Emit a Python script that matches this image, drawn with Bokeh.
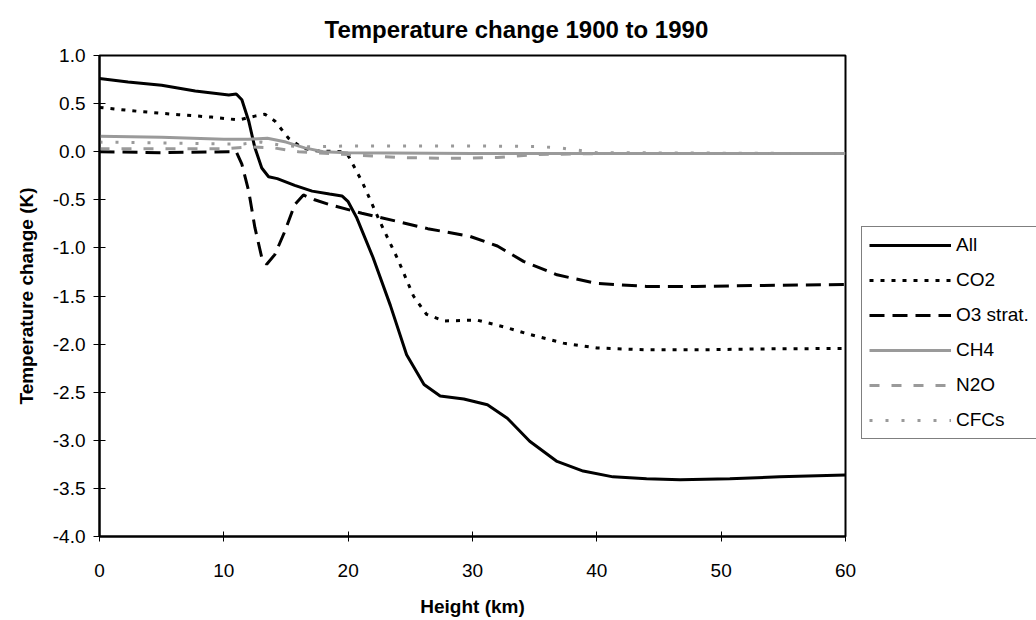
from bokeh.plotting import figure
from bokeh.models import Legend, LegendItem, Title, Range1d, FixedTicker, PrintfTickFormatter
from bokeh.embed import file_html
from bokeh.resources import INLINE

FONT = "Liberation Sans"

# ---- data ----
all_km = [0, 2.3, 5, 7.7, 10.4, 11.0, 11.45, 12.0, 12.5, 13.05, 13.6, 14.3, 15.7, 17.1, 18.5,
          19.5, 20.0, 20.7, 22.0, 23.4, 24.7, 26.1, 27.4, 29.3, 31.2, 32.8, 34.6, 36.8, 38.9,
          41.3, 44.0, 46.7, 50.7, 54.7, 60]
all_t = [0.76, 0.725, 0.69, 0.63, 0.59, 0.60, 0.54, 0.32, 0.04, -0.17, -0.26, -0.28, -0.35, -0.41, -0.44,
         -0.46, -0.52, -0.69, -1.10, -1.60, -2.11, -2.42, -2.54, -2.57, -2.63, -2.77, -3.01, -3.22, -3.32,
         -3.38, -3.40, -3.41, -3.40, -3.38, -3.36]

co2_km = [0, 3.1, 6.35, 9.0, 11.2, 12.5, 13.3, 14.1, 15.2, 16.3, 17.3, 19.5, 20.0, 21.15, 22.6, 24.0,
          25.25, 26.3, 27.7, 30.35, 32.5, 34.6, 37.3, 40.0, 44.0, 48.0, 53.4, 60]
co2_t = [0.46, 0.42, 0.385, 0.36, 0.33, 0.37, 0.39, 0.32, 0.14, 0.04, 0.01, 0.0, -0.04, -0.32, -0.74, -1.12,
         -1.50, -1.69, -1.76, -1.75, -1.82, -1.90, -1.99, -2.04, -2.06, -2.06, -2.05, -2.045]

o3_km = [0, 5, 10.4, 11.0, 11.45, 12.0, 12.5, 13.05, 13.45, 14.1, 14.9, 15.7, 16.4, 17.3, 18.5, 21.1,
         23.8, 26.4, 29.8, 32.0, 34.1, 36.8, 40.0, 44.0, 48.0, 53.4, 60]
o3_t = [0.0, -0.01, 0.0, 0.0, -0.13, -0.41, -0.79, -1.10, -1.17, -1.07, -0.83, -0.55, -0.45, -0.50, -0.55,
        -0.64, -0.72, -0.80, -0.88, -0.98, -1.14, -1.28, -1.37, -1.40, -1.40, -1.39, -1.38]

ch4_km = [0, 5, 10, 12, 13.5, 15, 16.5, 18, 20, 30, 40, 60]
ch4_t = [0.16, 0.15, 0.13, 0.13, 0.14, 0.10, 0.04, 0.0, -0.01, -0.02, -0.02, -0.02]

n2o_km = [0, 5, 10, 12, 14, 16, 20, 24, 28, 32, 35, 40, 60]
n2o_t = [0.03, 0.03, 0.03, 0.05, 0.04, 0.0, -0.03, -0.06, -0.07, -0.06, -0.03, -0.02, -0.02]

cfc_km = [0, 5, 10, 11.5, 13, 15, 17, 20, 25, 30, 35, 37, 40, 60]
cfc_t = [0.10, 0.09, 0.08, 0.08, 0.10, 0.06, 0.05, 0.06, 0.06, 0.06, 0.055, 0.04, -0.01, -0.02]

x_ticks = [0, 10, 20, 30, 40, 50, 60]
y_ticks = [1.0, 0.5, 0.0, -0.5, -1.0, -1.5, -2.0, -2.5, -3.0, -3.5, -4.0]

series_names = ["All", "CO2", "O3 strat.", "CH4", "N2O", "CFCs"]

# ---- figure ----
p = figure(frame_width=746, frame_height=481,
           min_border_left=99, min_border_top=54, min_border_bottom=84, min_border_right=0,
           x_range=Range1d(0, 60), y_range=Range1d(-4, 1),
           output_backend="svg", toolbar_location=None)
p.background_fill_color = "white"
p.border_fill_color = "white"
p.xgrid.visible = False
p.ygrid.visible = False
p.outline_line_color = "black"
p.outline_line_width = 2

GREY = "#9a9a9a"
r_all = p.line(all_km, all_t, line_color="black", line_width=3)
r_co2 = p.line(co2_km, co2_t, line_color="black", line_width=3, line_dash="4 7")
r_o3 = p.line(o3_km, o3_t, line_color="black", line_width=3, line_dash="15 8")
r_ch4 = p.line(ch4_km, ch4_t, line_color=GREY, line_width=3)
r_n2o = p.line(n2o_km, n2o_t, line_color=GREY, line_width=3, line_dash="10 12")
r_cfc = p.line(cfc_km, cfc_t, line_color=GREY, line_width=3, line_dash="3 13")

# axes
for ax in (p.xaxis[0], p.yaxis[0]):
    ax.axis_line_color = "black"
    ax.axis_line_width = 2
    ax.major_tick_line_color = "black"
    ax.major_tick_line_width = 1
    ax.minor_tick_line_color = None
    ax.major_label_text_font = FONT
    ax.major_label_text_font_size = "19px"
    ax.major_label_text_color = "black"
    ax.axis_label_text_font = FONT
    ax.axis_label_text_font_size = "19px"
    ax.axis_label_text_font_style = "bold"
    ax.axis_label_text_color = "black"

p.xaxis.ticker = FixedTicker(ticks=x_ticks)
p.xaxis.major_tick_in = 5
p.xaxis.major_tick_out = 5
p.xaxis.major_label_standoff = 22
p.xaxis.axis_label = "Height (km)"
p.xaxis.axis_label_standoff = 16

p.yaxis.ticker = FixedTicker(ticks=y_ticks)
p.yaxis.formatter = PrintfTickFormatter(format="%.1f")
p.yaxis.major_tick_in = 6
p.yaxis.major_tick_out = 6
p.yaxis.major_label_standoff = 8
p.yaxis.axis_label = "Temperature change (K)"
p.yaxis.axis_label_standoff = 13

# chart title (centred over the whole chart area, as in the reference)
p.add_layout(Title(text="Temperature change 1900 to 1990", align="left", offset=225,
                   text_font=FONT, text_font_size="24px", text_font_style="bold",
                   text_color="black", standoff=26), "above")

legend = Legend(items=[LegendItem(label=n, renderers=[r]) for n, r in
                       zip(series_names, [r_all, r_co2, r_o3, r_ch4, r_n2o, r_cfc])],
                location=(16, 97), orientation="vertical",
                glyph_width=82, glyph_height=22, label_height=22, spacing=13,
                padding=7, margin=0, label_standoff=5,
                label_text_font=FONT, label_text_font_size="19px", label_text_color="black",
                border_line_color="black", border_line_width=1,
                background_fill_color="white", background_fill_alpha=1.0)
p.add_layout(legend, "right")

open("out.html", "w").write(file_html(p, INLINE))
